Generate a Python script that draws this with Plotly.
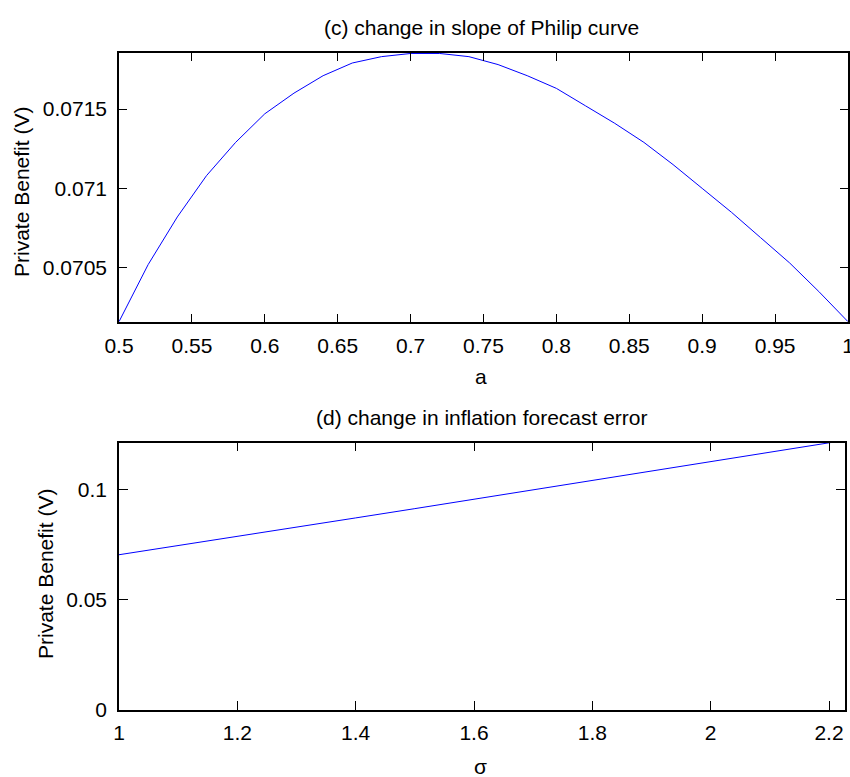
import plotly.graph_objects as go

# ---- data ----
a_vals = [0.50, 0.52, 0.54, 0.56, 0.58, 0.60, 0.62, 0.64, 0.66, 0.68, 0.70, 0.72, 0.74,
          0.76, 0.78, 0.80, 0.82, 0.84, 0.86, 0.88, 0.90, 0.92, 0.94, 0.96, 0.98, 1.00]
benefit_a = [0.07016, 0.07052, 0.07082, 0.07108, 0.07129, 0.07147, 0.07160, 0.07171, 0.07179,
             0.07183, 0.07185, 0.07185, 0.07183, 0.07178, 0.07171, 0.07163, 0.07152, 0.07141,
             0.07129, 0.07115, 0.07100, 0.07085, 0.07069, 0.07053, 0.07035, 0.07016]

sigma_vals = [1.0, 1.1, 1.2, 1.3, 1.4, 1.5, 1.6, 1.7, 1.8, 1.9, 2.0, 2.1, 2.2, 2.227]
benefit_sigma = [0.0704, 0.0745, 0.0787, 0.0829, 0.0871, 0.0913, 0.0956, 0.0999, 0.1042,
                 0.1084, 0.1126, 0.1169, 0.1211, 0.1223]

top_xticks = [0.5, 0.55, 0.6, 0.65, 0.7, 0.75, 0.8, 0.85, 0.9, 0.95, 1.0]
top_xlabels = ["0.5", "0.55", "0.6", "0.65", "0.7", "0.75", "0.8", "0.85", "0.9", "0.95", "1"]
top_yticks = [0.0705, 0.071, 0.0715]
top_ylabels = ["0.0705", "0.071", "0.0715"]
bot_xticks = [1.0, 1.2, 1.4, 1.6, 1.8, 2.0, 2.2]
bot_xlabels = ["1", "1.2", "1.4", "1.6", "1.8", "2", "2.2"]
bot_yticks = [0, 0.05, 0.1]
bot_ylabels = ["0", "0.05", "0.1"]

W, H = 850, 777
FONT = "Arial, Liberation Sans, sans-serif"
FS = 21


def px_x(p):
    return p / W


def px_y(p):
    return 1 - p / H


fig = go.Figure()
fig.add_trace(go.Scatter(x=a_vals, y=benefit_a, mode="lines",
                         line=dict(color="#0000ff", width=1), xaxis="x", yaxis="y",
                         showlegend=False))
fig.add_trace(go.Scatter(x=sigma_vals, y=benefit_sigma, mode="lines",
                         line=dict(color="#0000ff", width=1), xaxis="x2", yaxis="y2",
                         showlegend=False))

axis_common = dict(showline=True, linecolor="black", linewidth=1.5, mirror="allticks",
                   ticks="inside", tickcolor="black", tickwidth=1, showgrid=False,
                   zeroline=False, automargin=False, ticklabeloverflow="allow",
                   tickfont=dict(family=FONT, size=FS, color="black"))

fig.update_layout(
    width=W, height=H,
    margin=dict(l=0, r=0, t=0, b=0, autoexpand=False),
    paper_bgcolor="white", plot_bgcolor="white",
    xaxis=dict(domain=[px_x(119), px_x(848)], range=[0.499999, 1.000001], anchor="y",
               tickvals=top_xticks, ticktext=top_xlabels, ticklen=8,
               ticklabelstandoff=4, **axis_common),
    yaxis=dict(domain=[px_y(321.7), px_y(53)], range=[0.07016, 0.071853], anchor="x",
               tickvals=top_yticks, ticktext=top_ylabels, ticklen=8,
               ticklabelstandoff=6, **axis_common),
    xaxis2=dict(domain=[px_x(119), px_x(845)], range=[0.99999, 2.227], anchor="y2",
                tickvals=bot_xticks, ticktext=bot_xlabels, ticklen=9,
                ticklabelstandoff=3, **axis_common),
    yaxis2=dict(domain=[px_y(710), px_y(442.7)], range=[-0.000001, 0.1212], anchor="x2",
                tickvals=bot_yticks, ticktext=bot_ylabels, ticklen=9,
                ticklabelstandoff=6, **axis_common),
)

ann_font = dict(family=FONT, size=FS, color="black")
annotations = [
    dict(text="(c) change in slope of Philip curve", x=px_x(482), y=px_y(27)),
    dict(text="(d) change in inflation forecast error", x=px_x(482), y=px_y(417)),
    dict(text="a", x=px_x(481), y=px_y(376)),
    dict(text="σ", x=px_x(480), y=px_y(766)),
    dict(text="Private Benefit (V)", x=px_x(22), y=px_y(192), textangle=-90),
    dict(text="Private Benefit (V)", x=px_x(45), y=px_y(574), textangle=-90),
]
for an in annotations:
    an.update(xref="paper", yref="paper", showarrow=False, xanchor="center",
              yanchor="middle", font=ann_font)
fig.update_layout(annotations=annotations)

fig.write_html("out.html")
